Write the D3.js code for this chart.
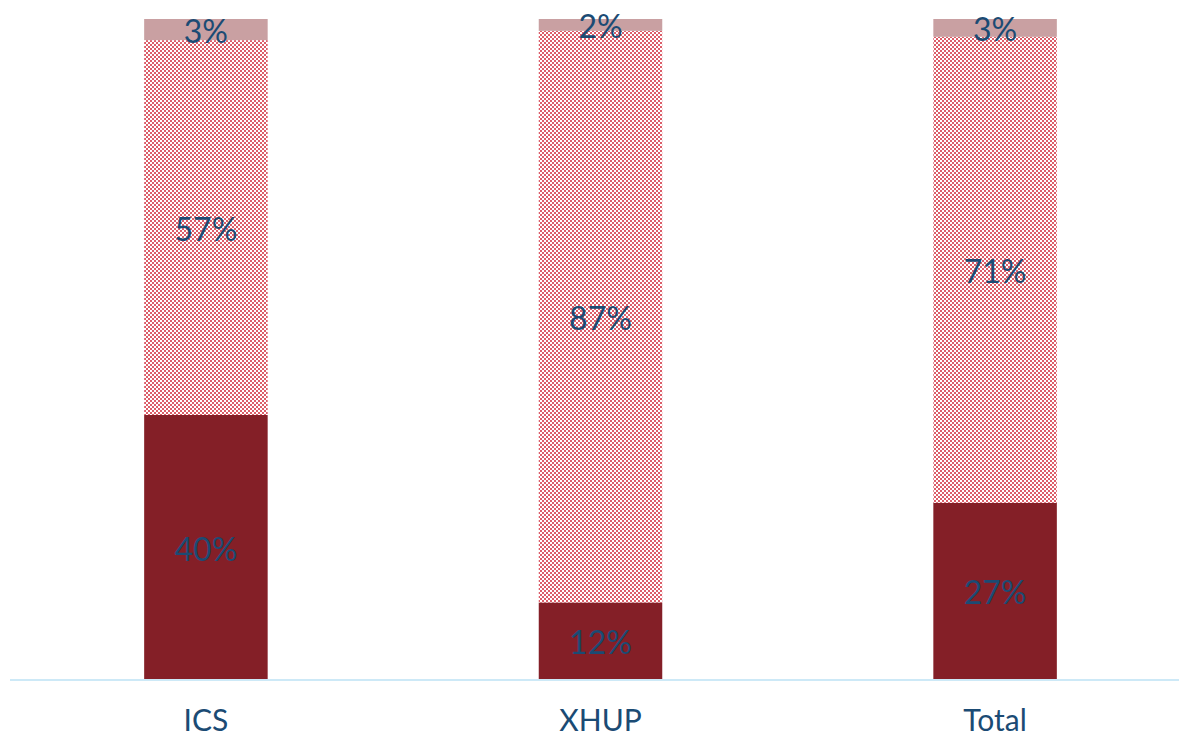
<!DOCTYPE html>
<html>
<head>
<meta charset="utf-8">
<script src="https://cdn.jsdelivr.net/npm/d3@7"></script>
<style>
  body { margin: 0; background: #fff; }
  svg { display: block; }
  text { font-family: Lato, "Open Sans", sans-serif; }
</style>
</head>
<body>
<svg id="chart" width="1179" height="740"></svg>
<script>
// chart data
const categories = ['ICS', 'XHUP', 'Total'];
const series = ['low', 'mid', 'high'];
const lowValues = [40.0, 11.6, 26.7];
const midValues = [56.8, 86.6, 70.6];
const highValues = [3.2, 1.8, 2.7];

const svg = d3.select('#chart');
const width = 1179, height = 740;
const margin = { top: 19, bottom: 61, left: 10, right: 0 };
const baseline = height - margin.bottom;

// checker pattern for the middle segment
const defs = svg.append('defs');
const pat = defs.append('pattern')
    .attr('id', 'checker')
    .attr('patternUnits', 'userSpaceOnUse')
    .attr('width', 4)
    .attr('height', 4);
pat.append('rect').attr('width', 4).attr('height', 4).attr('fill', '#dc5d69');
pat.append('rect').attr('x', 0).attr('y', 0).attr('width', 2).attr('height', 2).attr('fill', '#fff');
pat.append('rect').attr('x', 2).attr('y', 2).attr('width', 2).attr('height', 2).attr('fill', '#fff');

const fills = { low: '#841f27', mid: 'url(#checker)', high: '#c9a0a2' };

const rows = categories.map((c, i) => ({
    cat: c, low: lowValues[i], mid: midValues[i], high: highValues[i]
}));

const stacked = d3.stack().keys(series)(rows);

const x = d3.scaleBand()
    .domain(categories)
    .range([10, 1191])
    .paddingInner(0.687)
    .paddingOuter(0.34);

const y = d3.scaleLinear()
    .domain([0, 100])
    .range([baseline, margin.top]);

const layers = svg.append('g')
    .selectAll('g')
    .data(stacked)
    .join('g')
    .attr('fill', d => fills[d.key]);

layers.selectAll('rect')
    .data(d => d)
    .join('rect')
    .attr('x', d => x(d.data.cat))
    .attr('width', x.bandwidth())
    .attr('y', d => y(d[1]))
    .attr('height', d => y(d[0]) - y(d[1]));

// value labels
const labels = svg.append('g');
stacked.forEach(layer => {
    layer.forEach(d => {
        labels.append('text')
            .attr('x', x(d.data.cat) + x.bandwidth() / 2)
            .attr('y', (y(d[0]) + y(d[1])) / 2 + 2)
            .attr('dy', '0.36em')
            .attr('text-anchor', 'middle')
            .attr('font-size', 32)
            .attr('fill', '#1b4b74')
            .text(Math.round(d[1] - d[0]) + '%');
    });
});

// axis line
svg.append('line')
    .attr('x1', margin.left)
    .attr('x2', width)
    .attr('y1', baseline + 1)
    .attr('y2', baseline + 1)
    .attr('stroke', '#cde9f7')
    .attr('stroke-width', 2);

// category labels
svg.append('g')
    .selectAll('text')
    .data(categories)
    .join('text')
    .attr('x', d => x(d) + x.bandwidth() / 2)
    .attr('y', 731)
    .attr('text-anchor', 'middle')
    .attr('font-size', 30)
    .attr('fill', '#1b4b74')
    .text(d => d);
</script>
</body>
</html>
